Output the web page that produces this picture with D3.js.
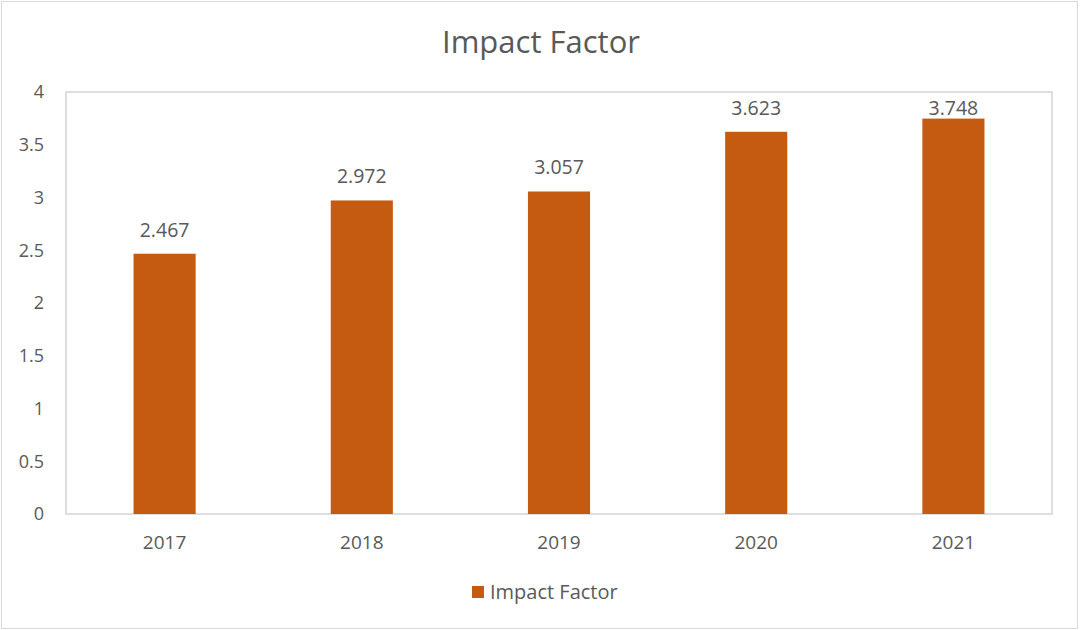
<!DOCTYPE html>
<html>
<head>
<meta charset="utf-8">
<script src="https://cdn.jsdelivr.net/npm/d3@7"></script>
<style>
  body { margin: 0; background: #fff; }
  text { font-family: "Open Sans", "Liberation Sans", sans-serif; fill: #595959; }
</style>
</head>
<body>
<script>
const w = 1080;
const h = 630;

const years = ["2017", "2018", "2019", "2020", "2021"];
const impactValues = [2.467, 2.972, 3.057, 3.623, 3.748];
const yTicks = [0, 0.5, 1, 1.5, 2, 2.5, 3, 3.5, 4];
const seriesName = "Impact Factor";
const barColor = "#C55A11";

const plot = { left: 66, right: 1052, top: 92, bottom: 514 };

const svg = d3.select("body").append("svg").attr("width", w).attr("height", h);

// outer chart border
svg.append("rect")
    .attr("x", 1.5).attr("y", 1.5)
    .attr("width", w - 4).attr("height", h - 3)
    .attr("fill", "#fff")
    .attr("stroke", "#d9d9d9");

const xScale = d3.scaleBand()
    .domain(years)
    .range([plot.left, plot.right])
    .paddingInner(0.685)
    .paddingOuter(0.3425);

const yScale = d3.scaleLinear()
    .domain([0, 4])
    .range([plot.bottom, plot.top]);

// plot area border
svg.append("rect")
    .attr("x", plot.left).attr("y", plot.top)
    .attr("width", plot.right - plot.left).attr("height", plot.bottom - plot.top)
    .attr("fill", "none")
    .attr("stroke", "#c8c8c8")
    .attr("stroke-width", 1.2);

svg.selectAll("rect.bar")
    .data(impactValues)
    .enter()
    .append("rect")
    .attr("class", "bar")
    .attr("x", (d, i) => xScale(years[i]))
    .attr("y", d => yScale(d))
    .attr("width", xScale.bandwidth())
    .attr("height", d => yScale(0) - yScale(d))
    .attr("fill", barColor);

// labels sit above bars, but are kept inside the plot area
svg.selectAll("text.label")
    .data(impactValues)
    .enter()
    .append("text")
    .attr("class", "label")
    .attr("x", (d, i) => xScale(years[i]) + xScale.bandwidth() / 2)
    .attr("y", d => Math.max(yScale(d) - 17, plot.top + 23))
    .attr("text-anchor", "middle")
    .style("font-size", "19.5px")
    .text(d => d3.format(".3f")(d));

const yAxis = d3.axisLeft(yScale).tickValues(yTicks).tickSize(0).tickPadding(22)
    .tickFormat(d => String(d));
const gy = svg.append("g")
    .attr("transform", "translate(" + plot.left + ",0)")
    .call(yAxis);
gy.select(".domain").remove();
gy.selectAll("text").style("font-size", "18px").attr("fill", "#595959");

const xAxis = d3.axisBottom(xScale).tickSize(0).tickPadding(22);
const gx = svg.append("g")
    .attr("transform", "translate(0," + plot.bottom + ")")
    .call(xAxis);
gx.select(".domain").remove();
gx.selectAll("text").style("font-size", "19px").attr("fill", "#595959");

svg.append("text")
    .attr("x", 541)
    .attr("y", 53)
    .attr("text-anchor", "middle")
    .style("font-size", "31px")
    .text(seriesName);

// legend
const legend = svg.append("g").attr("transform", "translate(472,586)");
legend.append("rect").attr("width", 12).attr("height", 12).attr("fill", barColor);
legend.append("text").attr("x", 18).attr("y", 13).style("font-size", "20px").text(seriesName);
</script>
</body>
</html>
